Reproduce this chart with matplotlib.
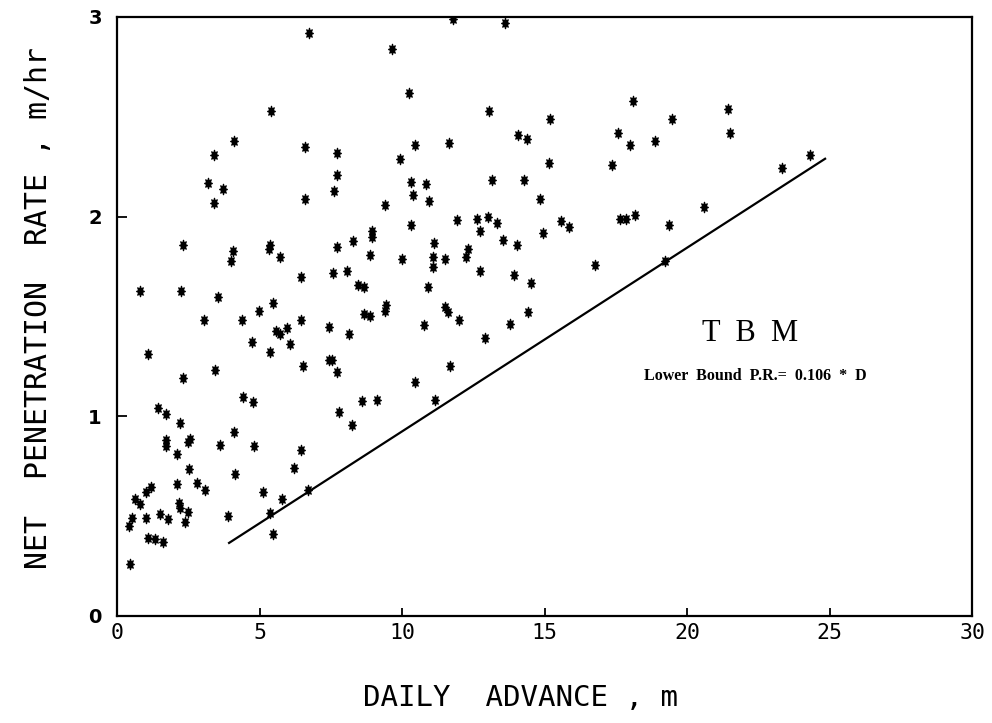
import matplotlib
matplotlib.use("Agg")
import matplotlib.pyplot as plt
from matplotlib.markers import MarkerStyle
from matplotlib.transforms import Affine2D

# Daily advance (m) and net penetration rate (m/hr)
daily_advance = [
    6.75, 9.64, 5.41, 4.11, 3.40, 6.61, 7.72, 7.72, 3.20, 3.71, 3.40, 6.60, 7.61, 9.39, 9.92,
    2.30, 4.08, 4.00, 5.37, 5.33, 5.70, 7.70, 8.28, 8.96, 8.96, 8.89, 0.80, 2.26, 3.55, 6.47,
    7.56, 8.06, 8.44, 8.65, 3.05, 4.39, 4.98, 5.47, 6.47, 8.68, 8.87, 9.40, 9.45,
    7.45, 5.58, 5.70, 5.95, 8.12, 1.07, 4.74, 5.35, 6.08, 7.45, 7.53, 6.54, 7.72, 3.45, 2.33,
    4.43, 4.78, 7.80, 8.61, 9.13, 8.23, 1.43, 1.72, 2.21, 1.71, 1.71, 2.10, 2.55, 2.49, 3.60,
    4.11, 4.79, 6.45, 6.20, 4.14, 2.54, 2.10, 2.82, 3.09, 1.01, 1.19, 0.62, 0.81, 5.13, 5.79,
    6.69, 5.36, 5.48, 3.88, 2.18, 2.20, 2.48, 2.38, 1.50, 1.79, 1.01, 0.42, 0.51, 1.09, 1.34,
    1.60, 0.44,
    11.80, 13.60, 10.25, 13.06, 15.18, 18.10, 19.48, 10.45, 11.65, 14.07, 14.38, 17.58, 17.98,
    18.88, 15.16, 17.38, 10.33, 10.38, 10.85, 10.93, 13.16, 14.26, 14.84, 11.94, 12.63, 13.03,
    13.34, 12.74, 10.32, 14.94, 15.56, 15.85, 17.65, 17.86, 18.16, 19.36, 11.13, 13.54, 14.04,
    12.32, 12.24, 10.01, 11.10, 11.10, 11.52, 16.78, 19.24, 10.90, 12.72, 13.92, 14.53, 11.52,
    11.62, 12.00, 13.80, 14.40, 10.78,
    12.90, 11.68, 10.45, 11.17,
    21.42, 21.51, 23.32, 24.31, 20.58,
]
penetration_rate = [
    2.92, 2.84, 2.53, 2.38, 2.31, 2.35, 2.32, 2.21, 2.17, 2.14, 2.07, 2.09, 2.13, 2.06, 2.29,
    1.86, 1.83, 1.78, 1.86, 1.84, 1.80, 1.85, 1.88, 1.93, 1.90, 1.81, 1.63, 1.63, 1.60, 1.70,
    1.72, 1.73, 1.66, 1.65, 1.48, 1.48, 1.53, 1.57, 1.48, 1.51, 1.50, 1.53, 1.56,
    1.445, 1.425, 1.41, 1.44, 1.41, 1.31, 1.37, 1.32, 1.36, 1.28, 1.28, 1.25, 1.22, 1.23, 1.19,
    1.095, 1.07, 1.02, 1.075, 1.08, 0.955, 1.04, 1.01, 0.966, 0.88, 0.85, 0.81, 0.886, 0.87, 0.854,
    0.92, 0.85, 0.83, 0.74, 0.71, 0.735, 0.66, 0.665, 0.63, 0.62, 0.645, 0.586, 0.56, 0.62, 0.585,
    0.63, 0.515, 0.41, 0.50, 0.565, 0.54, 0.52, 0.47, 0.51, 0.485, 0.49, 0.45, 0.49, 0.39, 0.385,
    0.37, 0.26,
    2.99, 2.97, 2.62, 2.53, 2.49, 2.58, 2.49, 2.36, 2.37, 2.41, 2.39, 2.42, 2.36,
    2.38, 2.27, 2.26, 2.175, 2.11, 2.165, 2.08, 2.185, 2.185, 2.09, 1.985, 1.99, 2.00,
    1.97, 1.93, 1.96, 1.92, 1.98, 1.95, 1.99, 1.99, 2.01, 1.96, 1.87, 1.885, 1.86,
    1.84, 1.80, 1.79, 1.80, 1.75, 1.79, 1.76, 1.78, 1.65, 1.73, 1.71, 1.67, 1.55,
    1.525, 1.48, 1.46, 1.52, 1.455,
    1.39, 1.25, 1.17, 1.08,
    2.54, 2.42, 2.245, 2.31, 2.05,
]

# Lower bound line end points (D, P.R.)
bound_d = [3.93, 24.84]
bound_pr = [0.366, 2.29]

x_ticks = [0, 5, 10, 15, 20, 25, 30]
y_ticks = [0, 1, 2, 3]

mono = ['DejaVu Sans Mono']
serif = ['Liberation Serif', 'DejaVu Serif']

fig = plt.figure(figsize=(9.92, 7.23), dpi=100)
ax = fig.add_axes([0.118, 0.148, 0.862, 0.8285])

mk = MarkerStyle((8, 1, 0), transform=Affine2D().scale(0.75, 1.0))
ax.scatter(daily_advance, penetration_rate, marker=mk, s=56, color='black',
           linewidths=0.9, edgecolors='black', zorder=3)
ax.plot(bound_d, bound_pr, color='black', linewidth=1.6, zorder=2)

ax.set_xlim(0, 30)
ax.set_ylim(0, 3)
ax.set_xticks(x_ticks)
ax.set_yticks(y_ticks)
ax.set_xticklabels([str(t) for t in x_ticks], fontsize=15.5, family=mono)
ax.set_yticklabels([str(t) for t in y_ticks], fontsize=14, family=['DejaVu Sans'],
                   fontweight='bold')
ax.tick_params(axis='x', direction='in', length=6, width=1.3, pad=5)
ax.tick_params(axis='y', direction='in', length=7, width=1.3, pad=11)
for sp in ax.spines.values():
    sp.set_linewidth(1.6)

fig.text(0.525, 0.034, 'DAILY  ADVANCE , m', fontsize=21, family=mono,
         ha='center', va='center')
fig.text(0.039, 0.574, 'NET  PENETRATION  RATE , m/hr', fontsize=21.5, family=mono,
         rotation=90, ha='center', va='center')

ax.text(22.2, 1.417, 'T  B  M', fontsize=22, family=serif, ha='center', va='center')
ax.text(22.4, 1.20, 'Lower  Bound  P.R.=  0.106  *  D', fontsize=11.5, family=serif,
        fontweight='bold', ha='center', va='center')

fig.savefig('out.png', dpi=100)
